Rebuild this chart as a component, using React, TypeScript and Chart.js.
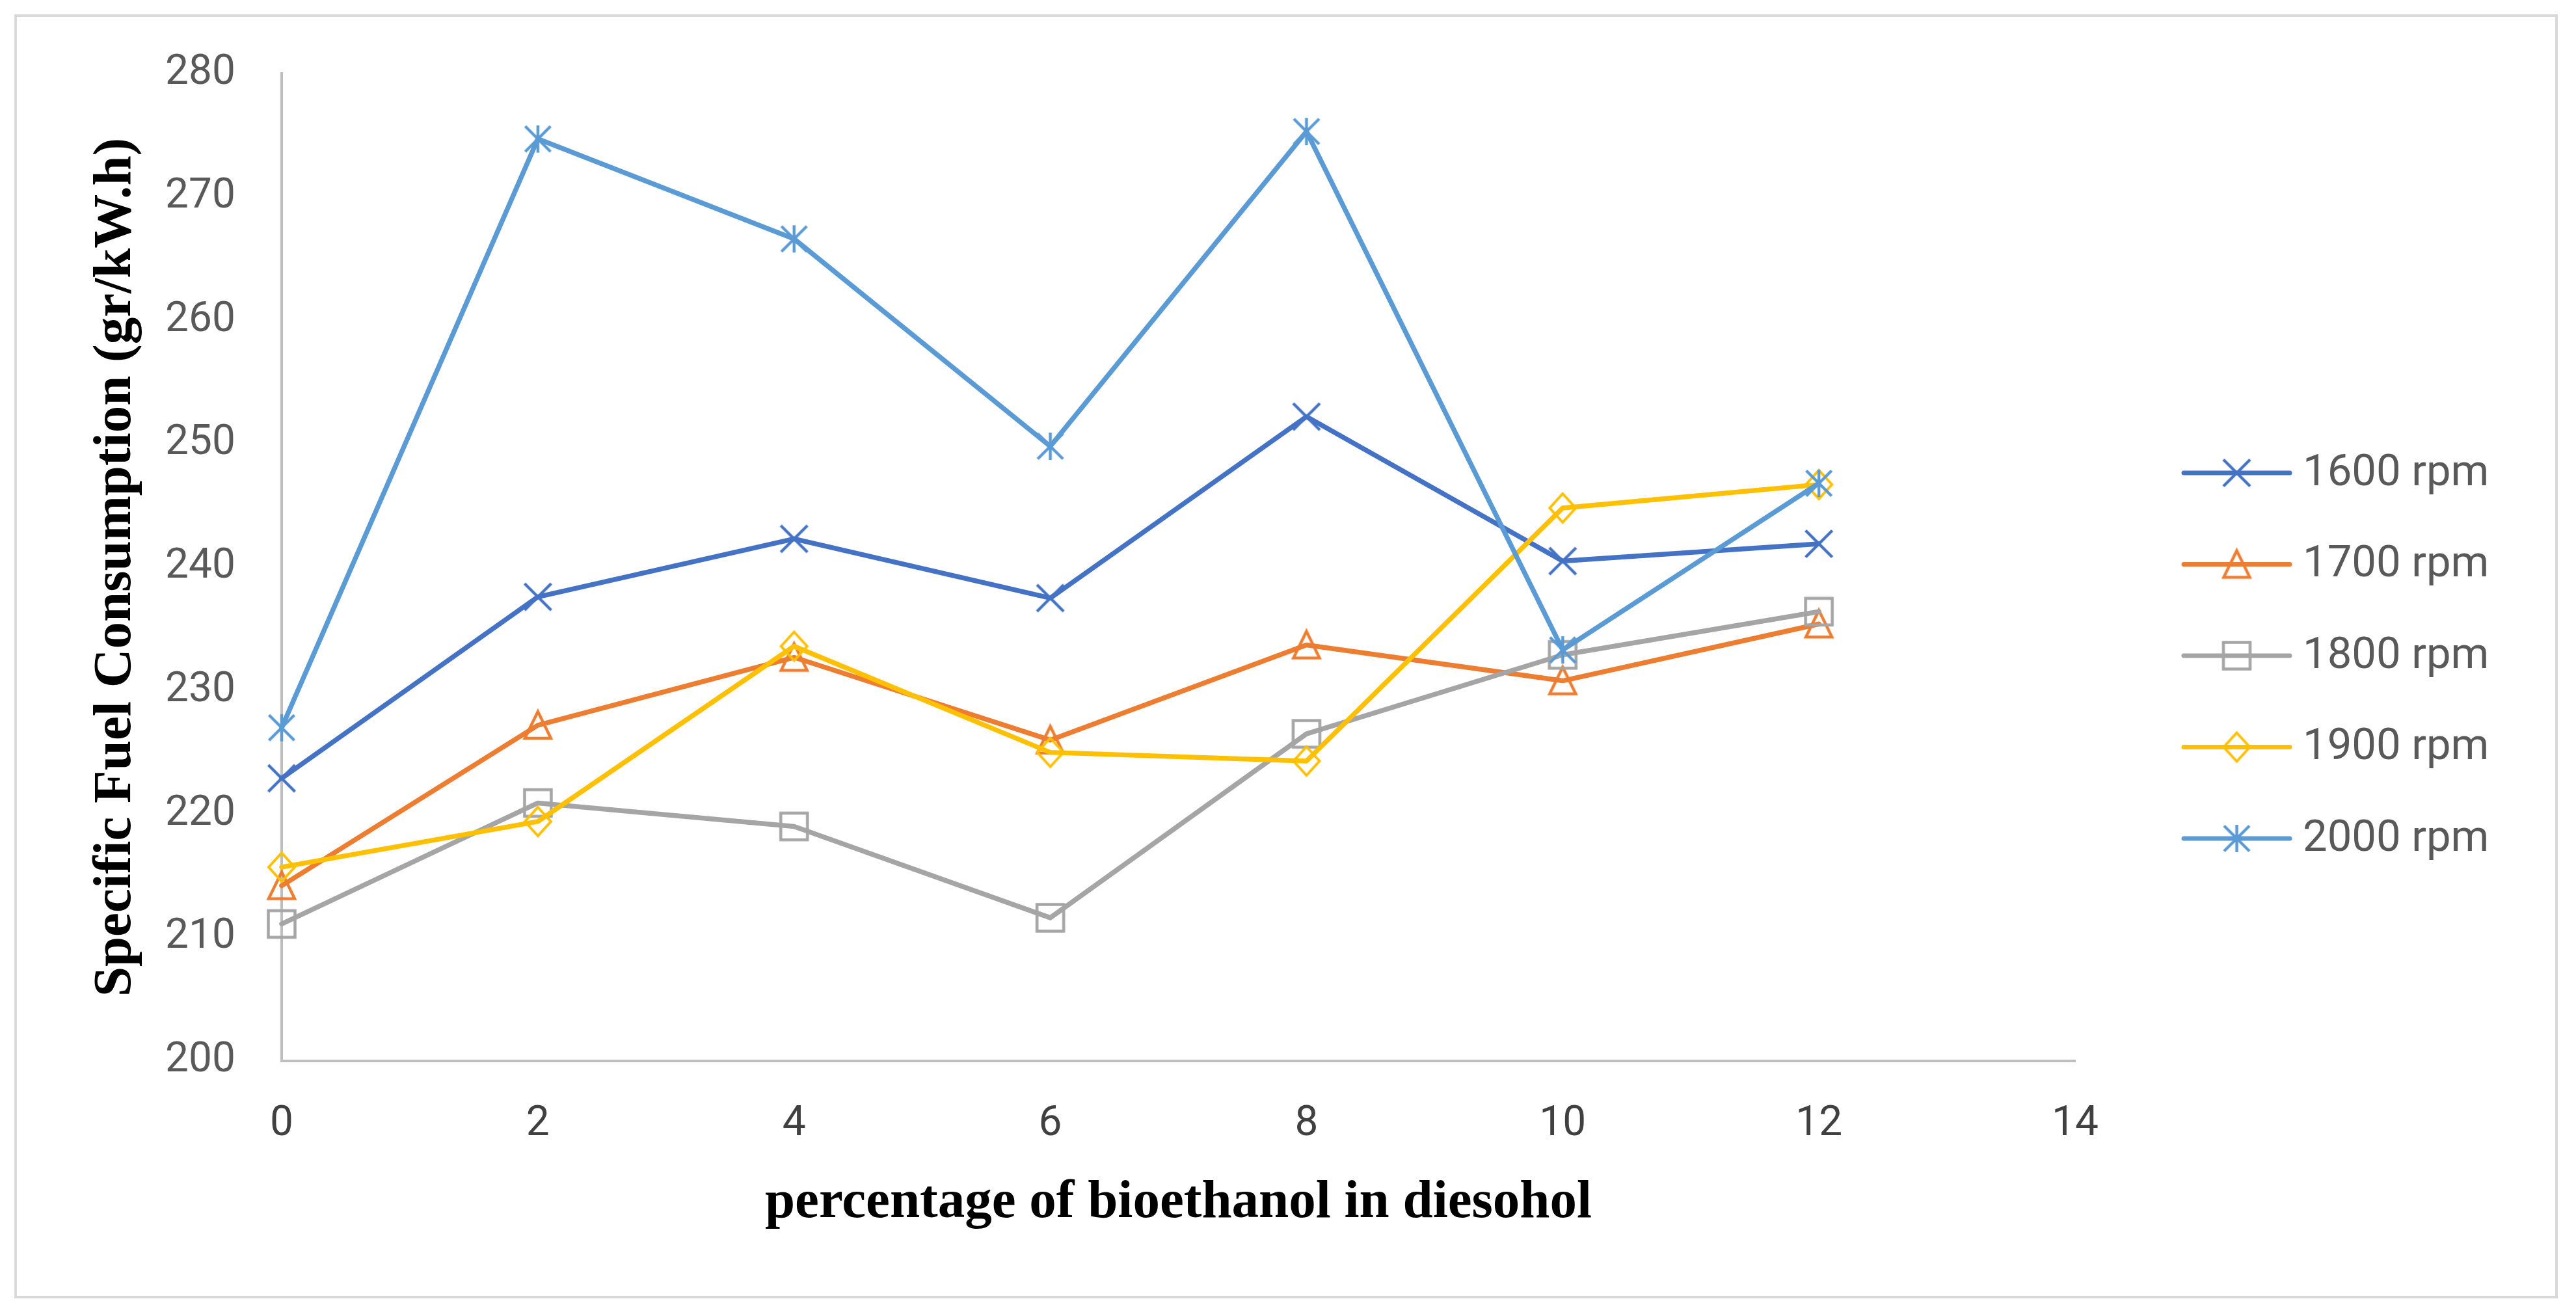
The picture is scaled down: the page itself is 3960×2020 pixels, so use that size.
import React, { useEffect, useRef } from "react";
import { Chart, registerables } from "chart.js";

Chart.register(...registerables);

// ---- data ----
const bioethanolPct = [0, 2, 4, 6, 8, 10, 12];
const seriesNames = ["1600 rpm", "1700 rpm", "1800 rpm", "1900 rpm", "2000 rpm"];
const sfc1600 = [222.9, 237.6, 242.3, 237.5, 252.2, 240.5, 241.9];
const sfc1700 = [214.2, 227.2, 232.7, 226.0, 233.7, 230.8, 235.4];
const sfc1800 = [211.1, 220.9, 219.0, 211.6, 226.5, 232.9, 236.4];
const sfc1900 = [215.7, 219.4, 233.6, 225.0, 224.3, 244.8, 246.7];
const sfc2000 = [227.0, 274.7, 266.6, 249.8, 275.3, 233.3, 246.8];
const xAxisTitle = "percentage of bioethanol in diesohol";
const yAxisTitle = "Specific Fuel Consumption (gr/kW.h)";

const seriesValues = [sfc1600, sfc1700, sfc1800, sfc1900, sfc2000];
const seriesColors = ["#4472C4", "#ED7D31", "#A5A5A5", "#FFC000", "#5B9BD5"];
const seriesMarkers = ["x", "triangle", "square", "diamond", "star"];

function makeMarker(kind: string, color: string): HTMLCanvasElement {
  const size = 64;
  const c = document.createElement("canvas");
  c.width = size;
  c.height = size;
  const ctx = c.getContext("2d")!;
  const m = size / 2;
  ctx.strokeStyle = color;
  ctx.lineWidth = 4.5;
  ctx.lineJoin = "miter";
  ctx.beginPath();
  if (kind === "x") {
    const h = 20.5;
    ctx.moveTo(m - h, m - h);
    ctx.lineTo(m + h, m + h);
    ctx.moveTo(m + h, m - h);
    ctx.lineTo(m - h, m + h);
  } else if (kind === "triangle") {
    ctx.moveTo(m, m - 21);
    ctx.lineTo(m + 20, m + 20);
    ctx.lineTo(m - 20, m + 20);
    ctx.closePath();
  } else if (kind === "square") {
    ctx.rect(m - 20.5, m - 20.5, 41, 41);
  } else if (kind === "diamond") {
    ctx.lineWidth = 4;
    ctx.moveTo(m, m - 22);
    ctx.lineTo(m + 20, m);
    ctx.lineTo(m, m + 22);
    ctx.lineTo(m - 20, m);
    ctx.closePath();
  } else if (kind === "star") {
    const h = 19.5;
    ctx.moveTo(m - h, m - h);
    ctx.lineTo(m + h, m + h);
    ctx.moveTo(m + h, m - h);
    ctx.lineTo(m - h, m + h);
    ctx.moveTo(m, m - 21);
    ctx.lineTo(m, m + 21);
  }
  ctx.stroke();
  return c;
}

export default function App() {
  const canvasRef = useRef<HTMLCanvasElement | null>(null);

  useEffect(() => {
    const canvas = canvasRef.current;
    if (!canvas) return;
    const markers = seriesMarkers.map((k, i) => makeMarker(k, seriesColors[i]));

    const decor = {
      id: "decor",
      beforeDraw(chart: any) {
        const ctx = chart.ctx;
        ctx.save();
        ctx.fillStyle = "#ffffff";
        ctx.fillRect(0, 0, chart.width, chart.height);
        ctx.restore();
      },
      afterDraw(chart: any) {
        const ctx = chart.ctx;
        ctx.save();
        // outer chart border
        ctx.strokeStyle = "#D9D9D9";
        ctx.lineWidth = 4;
        ctx.strokeRect(24, 24, 3906, 1970);
        // legend
        const n = seriesNames.length;
        const spacing = 140.5;
        const centerY = 1008;
        const x0 = 3357;
        const x1 = 3520;
        const xm = (x0 + x1) / 2;
        ctx.font = "67px Roboto";
        ctx.textBaseline = "middle";
        ctx.textAlign = "left";
        for (let i = 0; i < n; i++) {
          const y = centerY + (i - (n - 1) / 2) * spacing;
          ctx.strokeStyle = seriesColors[i];
          ctx.lineWidth = 7;
          ctx.lineCap = "round";
          ctx.beginPath();
          ctx.moveTo(x0, y);
          ctx.lineTo(x1, y);
          ctx.stroke();
          const mk = markers[i];
          ctx.drawImage(mk, xm - mk.width / 2, y - mk.height / 2);
          ctx.fillStyle = "#595959";
          ctx.fillText(seriesNames[i], 3540, y + 2);
        }
        ctx.restore();
      },
    };

    const chart = new Chart(canvas, {
      type: "line",
      data: {
        datasets: seriesNames.map((name, i) => ({
          label: name,
          data: bioethanolPct.map((x, j) => ({ x, y: seriesValues[i][j] })),
          borderColor: seriesColors[i],
          backgroundColor: seriesColors[i],
          borderWidth: 7.5,
          borderJoinStyle: "round" as const,
          borderCapStyle: "round" as const,
          pointStyle: markers[i],
          pointRadius: 10,
          tension: 0,
          fill: false,
          clip: false as any,
          order: seriesNames.length - i,
        })),
      },
      options: {
        animation: false,
        responsive: false,
        devicePixelRatio: 1,
        events: [],
        layout: { padding: { left: 129, top: 113, right: 770, bottom: 121 } },
        plugins: {
          legend: { display: false },
          tooltip: { enabled: false },
          title: { display: false },
        },
        scales: {
          x: {
            type: "linear",
            min: 0,
            max: 14,
            grid: { display: false, drawTicks: false },
            border: { display: true, color: "#BFBFBF", width: 4 },
            ticks: {
              stepSize: 2,
              color: "#404040",
              font: { family: "Roboto", size: 64 },
              padding: 60,
              maxRotation: 0,
            },
            title: {
              display: true,
              text: xAxisTitle,
              color: "#000000",
              font: { family: '"Times New Roman", "Liberation Serif", serif', size: 83, weight: "bold" },
              padding: 0,
            },
            afterFit: (s: any) => {
              s.height = 268;
            },
          },
          y: {
            type: "linear",
            min: 200,
            max: 280,
            grid: { display: false, drawTicks: false },
            border: { display: true, color: "#BFBFBF", width: 4 },
            ticks: {
              stepSize: 10,
              color: "#595959",
              font: { family: "Roboto", size: 64 },
              padding: 71,
            },
            title: {
              display: true,
              text: yAxisTitle,
              color: "#000000",
              font: { family: '"Times New Roman", "Liberation Serif", serif', size: 83, weight: "bold" },
              padding: 0,
            },
            afterFit: (s: any) => {
              s.width = 304;
            },
          },
        },
      },
      plugins: [decor],
    });

    return () => chart.destroy();
  }, []);

  return (
    <div style={{ position: "fixed", left: 0, top: 0, width: 3960, height: 2020, background: "#fff" }}>
      <canvas ref={canvasRef} width={3960} height={2020} style={{ display: "block", width: 3960, height: 2020 }} />
    </div>
  );
}
